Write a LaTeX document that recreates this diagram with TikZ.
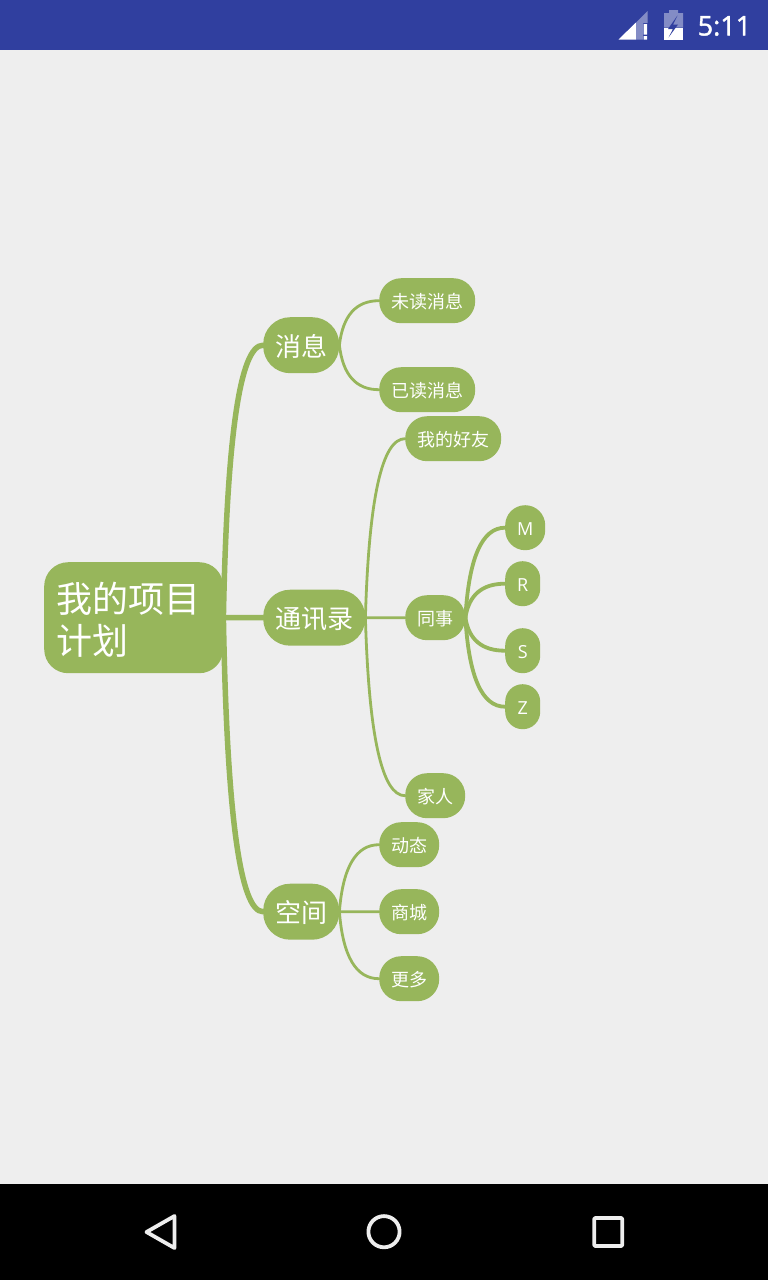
\documentclass[tikz,border=0pt]{standalone}
\usepackage{fontspec}
\setmainfont{Noto Sans CJK SC}
\newfontfamily\latinfont{Open Sans}
\newfontfamily\clockfont[FakeBold=1.5]{Open Sans}
\usetikzlibrary{calc}
\definecolor{bggrey}{HTML}{EEEEEE}
\definecolor{leaf}{HTML}{97B65B}
\definecolor{statusblue}{HTML}{303F9F}
\definecolor{iconfade}{HTML}{838CC5}
\tikzset{
  topic/.style={fill=leaf,text=white,inner sep=0pt,anchor=north west,align=center},
  small/.style={topic,rounded corners=22pt,minimum height=45pt,text height=16pt,text depth=0.3pt,font=\fontsize{18}{20}\selectfont},
  mid/.style={topic,rounded corners=27pt,minimum height=56pt,text height=23pt,text depth=0.5pt,font=\fontsize{26}{30}\selectfont},
  letter/.style={small,font=\latinfont\fontsize{18}{20}\selectfont,rounded corners=17.4pt},
  navicon/.style={draw=bggrey,line width=3.8pt,line join=round},
  link/.style={draw=leaf,line cap=round},
}
\newcommand{\lnk}[3]{%
  \coordinate (ctl) at ($(#1.east|-#2.west)!0.13!(#2.west)$);
  \draw[link,line width=#3] (#1.east)
    .. controls ($(#1.east)!0.6667!(ctl)$) and ($(#2.west)!0.6667!(ctl)$) .. (#2.west);}
\begin{document}
\begin{tikzpicture}[x=1pt,y=-1pt]
\useasboundingbox (0,0) rectangle (768,1280);
\fill[bggrey] (0,0) rectangle (768,1280);
\fill[statusblue] (0,0) rectangle (768,50);
\fill[black] (0,1184) rectangle (768,1280);
% status icons
\fill[white] (618.5,39.5) -- (636,22.5) -- (636,39.5) -- cycle;
\fill[iconfade] (636,39.5) -- (636,22.5) -- (647.5,11) -- (647.5,23) -- (643,23) -- (643,39.5) -- cycle;
\fill[white] (643.7,24) rectangle (647,34.5) (643.7,36) rectangle (647,39.5);
\fill[iconfade] (669,10) rectangle (678,13) (664,13) rectangle (683,27.5);
\fill[white] (664,27.5) rectangle (683,39.5);
\fill[statusblue] (677.5,15.5) -- (668,29) -- (673,29) -- (668.5,37.5) -- (678,24.5) -- (673,24.5) -- cycle;
\node[text=white,inner sep=0pt,anchor=west,font=\clockfont\fontsize{27}{30}\selectfont] (clock) at (697.5,26) {5:11};
% nodes
\node[topic,minimum width=179pt,minimum height=111pt,rounded corners=24pt,text width=154pt,inner xsep=12.5pt,align=left,font=\fontsize{36}{42}\selectfont] (root) at (44,562) {\rule{0pt}{34pt}我的项目\\计划};
\node[mid,minimum width=76pt] (msg) at (263,317) {消息};
\node[mid,minimum width=102pt] (book) at (263,589.5) {通讯录};
\node[mid,minimum width=76pt] (space) at (263,883.5) {空间};
\node[small,minimum width=96pt] (unread) at (379,278) {未读消息};
\node[small,minimum width=96pt] (read) at (379,367) {已读消息};
\node[small,minimum width=96pt] (friend) at (405,416) {我的好友};
\node[small,minimum width=60pt] (mate) at (405,595) {同事};
\node[small,minimum width=60pt] (family) at (405,773) {家人};
\node[letter,minimum width=40pt,rounded corners=20pt] (m) at (505,505) {M};
\node[letter,minimum width=35pt] (r) at (505,561) {R};
\node[letter,minimum width=35pt] (s) at (505,628) {S};
\node[letter,minimum width=35pt] (z) at (505,684) {Z};
\node[small,minimum width=60pt] (news) at (379,822) {动态};
\node[small,minimum width=60pt] (shop) at (379,889) {商城};
\node[small,minimum width=60pt] (more) at (379,956) {更多};
% connectors
\lnk{root}{msg}{5.5pt}
\lnk{root}{book}{5.5pt}
\lnk{root}{space}{5.5pt}
\lnk{msg}{unread}{2.8pt}
\lnk{msg}{read}{2.8pt}
\lnk{book}{friend}{2.8pt}
\lnk{book}{mate}{2.8pt}
\lnk{book}{family}{2.8pt}
\lnk{mate}{m}{3.8pt}
\lnk{mate}{r}{3.8pt}
\lnk{mate}{s}{3.8pt}
\lnk{mate}{z}{3.8pt}
\lnk{space}{news}{2.8pt}
\lnk{space}{shop}{2.8pt}
\lnk{space}{more}{2.8pt}
% navigation
\draw[navicon] (146.5,1232) -- (174.5,1216) -- (174.5,1248) -- cycle;
\draw[navicon] (384,1231.7) circle (15.6);
\draw[navicon,rounded corners=1pt] (594.2,1218) rectangle (622.2,1246);
\end{tikzpicture}
\end{document}
